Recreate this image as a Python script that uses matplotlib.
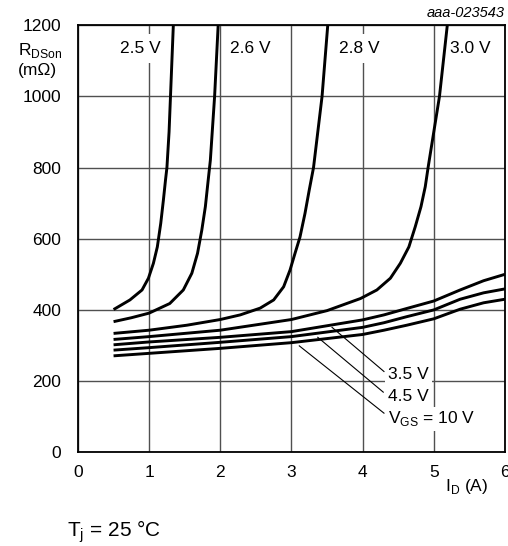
import matplotlib
matplotlib.use("Agg")
import matplotlib.pyplot as plt

plt.rcParams['font.family'] = ['Liberation Sans', 'DejaVu Sans']
plt.rcParams['mathtext.fontset'] = 'custom'
plt.rcParams['mathtext.rm'] = 'Liberation Sans'

# drain current I_D (A) and R_DSon (mOhm)
id_25 = [0.5, 0.73, 0.90, 0.99, 1.06, 1.115, 1.163, 1.20, 1.23, 1.25, 1.28, 1.30, 1.34]
r_25 = [401, 428, 456, 489, 531, 577, 643, 708, 765, 800, 900, 1000, 1200]

id_26 = [0.5, 0.75, 1.0, 1.29, 1.48, 1.60, 1.68, 1.74, 1.79, 1.83, 1.86, 1.92, 1.97]
r_26 = [367, 378, 391, 418, 456, 503, 559, 624, 690, 765, 820, 1000, 1200]

id_28 = [0.5, 1.0, 1.53, 2.0, 2.28, 2.56, 2.75, 2.89, 2.98, 3.05, 3.12, 3.19, 3.25,
         3.31, 3.43, 3.51]
r_28 = [334, 343, 357, 373, 386, 405, 428, 465, 512, 559, 605, 671, 737,
        800, 1000, 1200]

id_30 = [0.5, 1.0, 2.0, 3.0, 3.5, 3.97, 4.20, 4.39, 4.53, 4.65, 4.74, 4.82, 4.88,
         4.92, 5.0, 5.08, 5.19]
r_30 = [317, 325, 343, 373, 398, 432, 456, 489, 531, 577, 634, 690, 746,
        800, 900, 1000, 1200]

id_low = [0.5, 1.0, 2.0, 3.0, 4.0, 4.3, 4.62, 5.0, 5.37, 5.7, 6.0]
r_35 = [302, 310, 323, 339, 372, 386, 404, 425, 456, 482, 500]
r_45 = [287, 294, 309, 325, 351, 364, 381, 400, 430, 448, 459]
r_10 = [271, 278, 292, 308, 331, 343, 357, 375, 402, 420, 430]

top_labels = ['2.5 V', '2.6 V', '2.8 V', '3.0 V']
top_label_x = [0.87, 2.42, 3.95, 5.52]

x_ticks = [0, 1, 2, 3, 4, 5, 6]
y_ticks = [0, 200, 400, 600, 800, 1000, 1200]

fig = plt.figure(figsize=(5.08, 5.46), dpi=100)
ax = fig.add_axes([0.1535, 0.1716, 0.8405, 0.7824])

ax.set_xlim(0, 6)
ax.set_ylim(0, 1200)
ax.set_xticks(x_ticks)
ax.set_yticks(y_ticks)
ax.tick_params(length=0, labelsize=12.5, pad=9)
ax.tick_params(axis='y', pad=12)
ax.grid(True, color='#505050', linewidth=1.0)
ax.set_axisbelow(True)
for s in ax.spines.values():
    s.set_linewidth(1.3)
    s.set_zorder(5)

curves = [(id_25, r_25), (id_26, r_26), (id_28, r_28), (id_30, r_30),
          (id_low, r_35), (id_low, r_45), (id_low, r_10)]
for xs, ys in curves:
    ax.plot(xs, ys, color='black', linewidth=2.1, zorder=4,
            solid_capstyle='butt', solid_joinstyle='round')

box = dict(facecolor='white', edgecolor='none', pad=5)
for lab, xl in zip(top_labels, top_label_x):
    ax.text(xl, 1135, lab, fontsize=12.5, ha='center', va='center',
            bbox=box, zorder=3)

# leader lines for the low V_GS curves
ax.plot([3.57, 4.30], [351, 227], color='black', linewidth=0.8, zorder=3)
ax.plot([3.37, 4.29], [323, 169], color='black', linewidth=0.8, zorder=3)
ax.plot([3.11, 4.30], [299, 110], color='black', linewidth=0.8, zorder=3)

small_box = dict(facecolor='white', edgecolor='none', pad=2)
ax.text(4.36, 218, '3.5 V', fontsize=12.5, va='center', ha='left', zorder=3, bbox=small_box)
ax.text(4.36, 157, '4.5 V', fontsize=12.5, va='center', ha='left', zorder=3, bbox=small_box)
ax.text(4.36, 94, r'V$_{\mathrm{GS}}$ = 10 V', fontsize=12.5, va='center', ha='left',
        zorder=3, bbox=small_box)

fig.text(40 / 508, 1 - 50 / 546, r'R$_{\mathrm{DSon}}$', fontsize=12.5, ha='center', va='center')
fig.text(37 / 508, 1 - 71 / 546, '(mΩ)', fontsize=12.5, ha='center', va='center')
fig.text(467 / 508, 1 - 487 / 546, r'I$_{\mathrm{D}}$ (A)', fontsize=12.5, ha='center', va='center')
fig.text(67 / 508, 1 - 532 / 546, r'T$_{\mathrm{j}}$ = 25 °C', fontsize=15, ha='left', va='center')
fig.text(505 / 508, 1 - 13 / 546, 'aaa-023543', fontsize=10.5, style='italic',
         ha='right', va='center')

fig.savefig('out.png', dpi=100)
